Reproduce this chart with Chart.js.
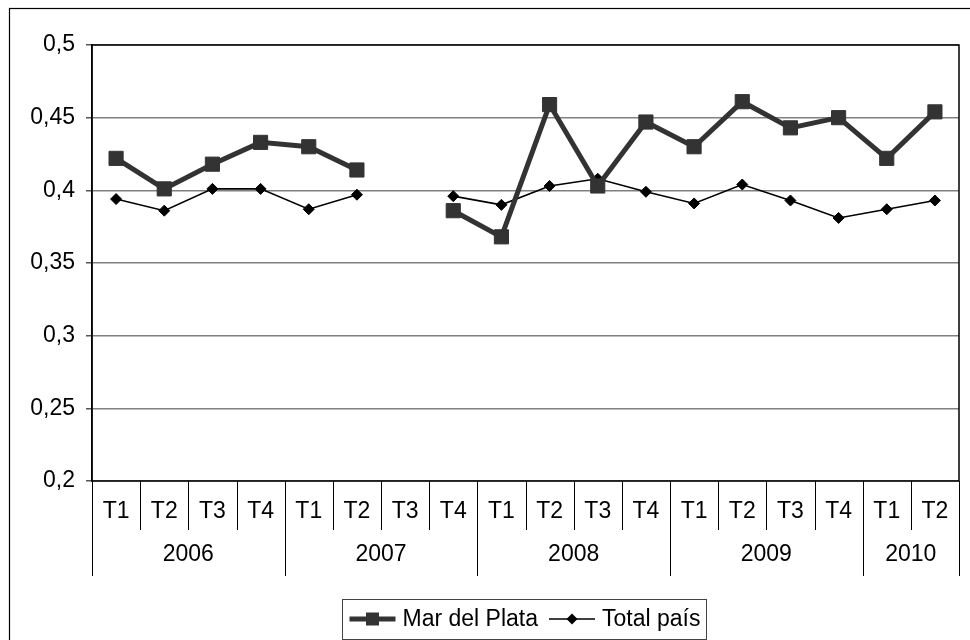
<!DOCTYPE html>
<html>
<head>
<meta charset="utf-8">
<script src="https://cdn.jsdelivr.net/npm/chart.js@4.4.0/dist/chart.umd.min.js"></script>
<style>
  html, body { margin: 0; padding: 0; background: #fff; }
  #wrap { width: 970px; height: 640px; position: relative; }
</style>
</head>
<body>
<div id="wrap"><canvas id="c"></canvas></div>
<script>
// Quarterly series, 2006 T1 to 2010 T2 (2007 T3 has no data)
const quarters = ['T1','T2','T3','T4','T1','T2','T3','T4','T1','T2','T3','T4','T1','T2','T3','T4','T1','T2'];
const years = ['2006', '2007', '2008', '2009', '2010'];
const quartersPerYear = [4, 4, 4, 4, 2];
const marDelPlata = [0.422, 0.401, 0.418, 0.433, 0.430, 0.414, null, 0.386, 0.368, 0.459, 0.403, 0.447, 0.430, 0.461, 0.443, 0.450, 0.422, 0.454];
const totalPais   = [0.394, 0.386, 0.401, 0.401, 0.387, 0.397, null, 0.396, 0.390, 0.403, 0.408, 0.399, 0.391, 0.404, 0.393, 0.381, 0.387, 0.393];
const yTicks = [0.2, 0.25, 0.3, 0.35, 0.4, 0.45, 0.5];

const FAMILY = '"Liberation Sans", Arial, Helvetica, sans-serif';
const FONT_SIZE = 23;
const FONT = FONT_SIZE + 'px ' + FAMILY;

const fmt = v => String(+Number(v).toFixed(2)).replace('.', ',');

// Outer frame, plot frame, two-level category table and the boxed legend
const decorations = {
  id: 'decorations',
  beforeDraw(chart) {
    const ctx = chart.ctx;
    ctx.save();
    ctx.fillStyle = '#fff';
    ctx.fillRect(0, 0, chart.width, chart.height);
    ctx.strokeStyle = '#000';
    ctx.lineWidth = 1.2;
    ctx.strokeRect(9.5, 8.5, chart.width + 20, chart.height + 20);
    ctx.restore();
  },
  beforeDatasetsDraw(chart) {
    const { ctx, chartArea: a } = chart;
    ctx.save();
    ctx.strokeStyle = '#000';
    ctx.lineWidth = 1.5;
    ctx.strokeRect(a.left, a.top, a.right - a.left, a.bottom - a.top);
    ctx.restore();
  },
  afterDraw(chart) {
    const { ctx, chartArea: a } = chart;
    const xs = chart.scales.x;
    const n = quarters.length;
    const edge = i => xs.getPixelForValue(i - 0.5);
    const rowBottom = a.bottom + 49;
    const yearBottom = a.bottom + 95;

    ctx.save();
    ctx.strokeStyle = '#000';
    ctx.lineWidth = 1;
    // quarter separators
    for (let i = 0; i <= n; i++) {
      const x = Math.round(edge(i)) + 0.5;
      ctx.beginPath();
      ctx.moveTo(x, a.bottom);
      ctx.lineTo(x, rowBottom);
      ctx.stroke();
    }
    // year separators
    let idx = 0;
    const bounds = [0];
    quartersPerYear.forEach(q => { idx += q; bounds.push(idx); });
    bounds.forEach(b => {
      const x = Math.round(edge(b)) + 0.5;
      ctx.beginPath();
      ctx.moveTo(x, a.bottom);
      ctx.lineTo(x, yearBottom);
      ctx.stroke();
    });

    ctx.fillStyle = '#000';
    ctx.font = FONT;
    ctx.textAlign = 'center';
    ctx.textBaseline = 'middle';
    quarters.forEach((q, i) => ctx.fillText(q, xs.getPixelForValue(i), a.bottom + 31));
    years.forEach((yr, k) => {
      const cx = (edge(bounds[k]) + edge(bounds[k + 1])) / 2;
      ctx.fillText(yr, cx, a.bottom + 74);
    });

    // legend
    const ds = chart.data.datasets;
    const ly = 619;
    const boxL = 342.5, boxT = 599.5, boxH = 40;
    let x = boxL + 7;
    const items = [];
    ds.forEach((d, i) => {
      const sample = 46;
      const tw = ctx.measureText(d.label).width;
      items.push({ d, x0: x, sample, tx: x + sample + 7, tw });
      x = x + sample + 7 + tw + 11;
    });
    const boxR = x - 11 + 6;
    ctx.strokeStyle = '#444';
    ctx.lineWidth = 1;
    ctx.strokeRect(boxL, boxT, Math.round(boxR - boxL), boxH);

    items.forEach(it => {
      const d = it.d;
      ctx.strokeStyle = d.borderColor;
      ctx.lineWidth = d.borderWidth;
      ctx.beginPath();
      ctx.moveTo(it.x0, ly);
      ctx.lineTo(it.x0 + it.sample, ly);
      ctx.stroke();
      const cx = it.x0 + it.sample / 2;
      ctx.fillStyle = d.pointBackgroundColor;
      ctx.beginPath();
      if (d.pointStyle === 'rect') {
        const s = 6.5;
        ctx.rect(cx - s, ly - s, 2 * s, 2 * s);
      } else {
        const r = 5.5;
        ctx.moveTo(cx, ly - r);
        ctx.lineTo(cx + r, ly);
        ctx.lineTo(cx, ly + r);
        ctx.lineTo(cx - r, ly);
        ctx.closePath();
      }
      ctx.fill();
      ctx.fillStyle = '#000';
      ctx.textAlign = 'left';
      ctx.textBaseline = 'middle';
      ctx.fillText(d.label, it.tx, ly + 1);
    });
    ctx.restore();
  }
};

new Chart(document.getElementById('c'), {
  type: 'line',
  data: {
    labels: quarters,
    datasets: [
      {
        label: 'Mar del Plata',
        data: marDelPlata,
        borderColor: '#333333',
        backgroundColor: '#333333',
        borderWidth: 5,
        pointStyle: 'rect',
        pointRadius: 10,
        pointBorderWidth: 1,
        pointBackgroundColor: '#333333',
        pointBorderColor: '#333333',
        spanGaps: false,
        tension: 0
      },
      {
        label: 'Total país',
        data: totalPais,
        borderColor: '#000000',
        backgroundColor: '#000000',
        borderWidth: 1.6,
        pointStyle: 'rectRot',
        pointRadius: 5.5,
        pointBorderWidth: 1,
        pointBackgroundColor: '#000000',
        pointBorderColor: '#000000',
        spanGaps: false,
        tension: 0
      }
    ]
  },
  options: {
    responsive: true,
    maintainAspectRatio: false,
    animation: false,
    events: [],
    layout: { padding: { left: 0, top: 45, right: 2, bottom: 159 } },
    plugins: { legend: { display: false }, tooltip: { enabled: false } },
    scales: {
      x: {
        type: 'category',
        display: false,
        offset: true
      },
      y: {
        min: 0.2,
        max: 0.5,
        afterBuildTicks: s => { s.ticks = yTicks.map(v => ({ value: v })); },
        afterFit: s => { s.width = 92; },
        ticks: {
          font: { family: FAMILY, size: FONT_SIZE },
          color: '#000',
          padding: 11,
          callback: v => fmt(v)
        },
        grid: { color: '#808080', lineWidth: 1.5, tickLength: 6, tickColor: '#555' },
        border: { display: true, color: '#000', width: 1.5 }
      }
    }
  },
  plugins: [decorations]
});
</script>
</body>
</html>
